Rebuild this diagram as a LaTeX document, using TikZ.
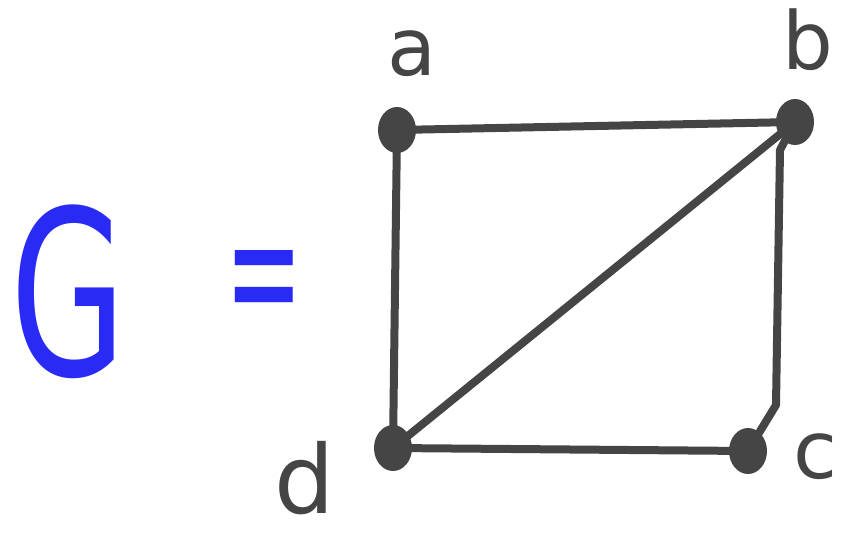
\documentclass[tikz,border=0pt]{standalone}
\usetikzlibrary{shapes.geometric}
\usepackage{fontspec}
\setmainfont{DejaVu Sans}
\definecolor{ink}{HTML}{454545}
\definecolor{pen}{HTML}{2A2AF5}
\begin{document}
\begin{tikzpicture}[x=1pt,y=-1pt,
  vtx/.style={ellipse,fill=ink,draw=none,minimum width=38pt,minimum height=46pt,inner sep=0pt},
  edge/.style={draw=ink,line width=8pt,line cap=round,line join=round},
  lbl/.style={text=ink,font=\fontsize{80}{80}\selectfont,inner sep=0pt},
  blue/.style={text=pen,inner sep=0pt}]
\useasboundingbox (0,0) rectangle (849,549);
\node[vtx] (a) at (397,130) {};
\node[vtx] (b) at (795,122) {};
\node[vtx] (c) at (748,451) {};
\node[vtx] (d) at (393,448) {};
\coordinate (b1) at (780,150);
\coordinate (c1) at (776,405);
\draw[edge] (a.center) -- (b.center);
\draw[edge] (b.center) -- (b1) -- (c1) -- (c.center);
\draw[edge] (c.center) -- (d.center);
\draw[edge] (d.center) -- (a.center);
\draw[edge] (d.center) -- (b.center);
\node[lbl] (la) at (412,54) {a};
\node[lbl] (lb) at (808,40) {b};
\node[lbl] (lc) at (815,457) {c};
\node[lbl,font=\fontsize{95}{95}\selectfont] (ld) at (305,478) {d};
\node[blue,font=\fontsize{230}{230}\selectfont,xscale=0.65,transform shape] (g) at (68,292) {G};
\node[blue,font=\fontsize{185}{185}\selectfont,xscale=0.5,transform shape] (eq) at (264,292) {=};
\end{tikzpicture}
\end{document}
